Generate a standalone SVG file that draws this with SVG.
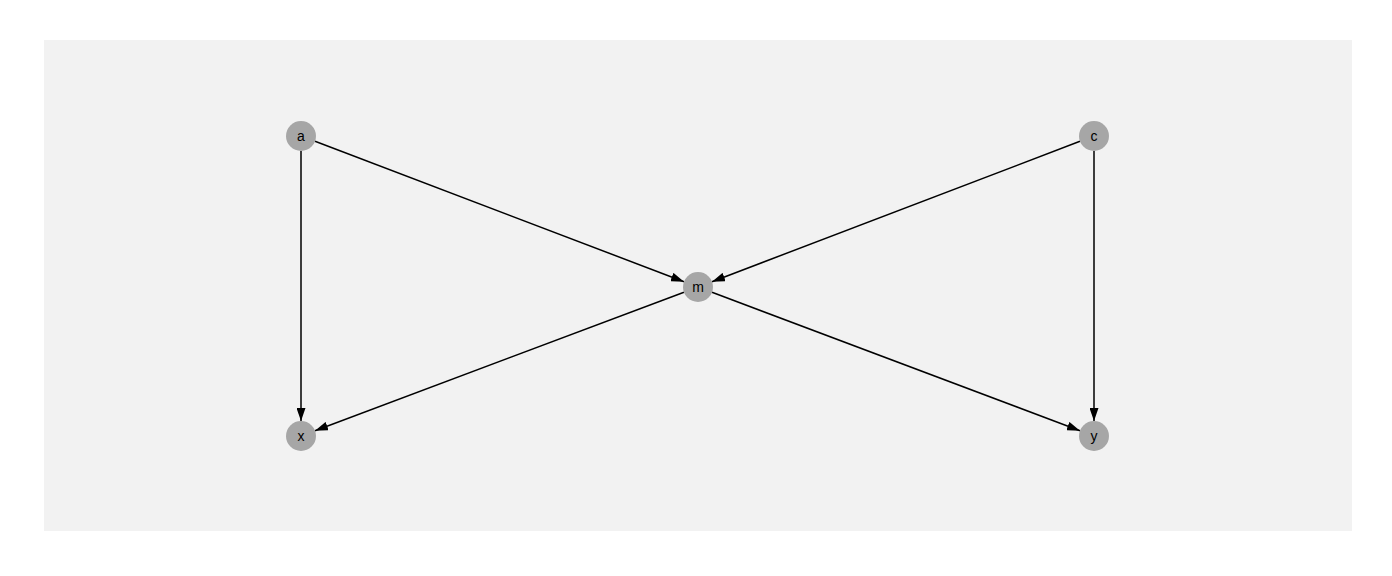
<svg xmlns="http://www.w3.org/2000/svg" width="1392" height="576" viewBox="0 0 1392 576">
<style>
.node circle{fill:#a6a6a6;}
.node text{font-family:"Liberation Sans",Arial,sans-serif;font-size:14px;font-weight:normal;fill:#000;text-anchor:middle;}
.edge{stroke:#000;stroke-width:1.5;fill:none;marker-end:url(#arr);}
</style>
<defs>
<marker id="arr" markerUnits="userSpaceOnUse" markerWidth="13" markerHeight="9" refX="13" refY="4.5" orient="auto">
<path d="M0,0 L13,4.5 L0,9 z" fill="#000"/>
</marker>
</defs>
<rect x="44" y="40" width="1308" height="491" fill="#f2f2f2"/>
<g id="edges">
<line class="edge" x1="301" y1="151" x2="301" y2="421"/>
<line class="edge" x1="1094" y1="151" x2="1094" y2="421"/>
<line class="edge" x1="315" y1="141.3" x2="684" y2="281.7"/>
<line class="edge" x1="1080" y1="141.3" x2="712" y2="281.7"/>
<line class="edge" x1="684" y1="292.3" x2="315" y2="430.7"/>
<line class="edge" x1="712" y1="292.3" x2="1080" y2="430.7"/>
</g>
<g id="node-a" class="node"><circle cx="301" cy="136" r="15"/><text x="301" y="141">a</text></g>
<g id="node-c" class="node"><circle cx="1094" cy="136" r="15"/><text x="1094" y="141">c</text></g>
<g id="node-m" class="node"><circle cx="698" cy="287" r="15"/><text x="698" y="292">m</text></g>
<g id="node-x" class="node"><circle cx="301" cy="436" r="15"/><text x="301" y="441">x</text></g>
<g id="node-y" class="node"><circle cx="1094" cy="436" r="15"/><text x="1094" y="441">y</text></g>
</svg>
